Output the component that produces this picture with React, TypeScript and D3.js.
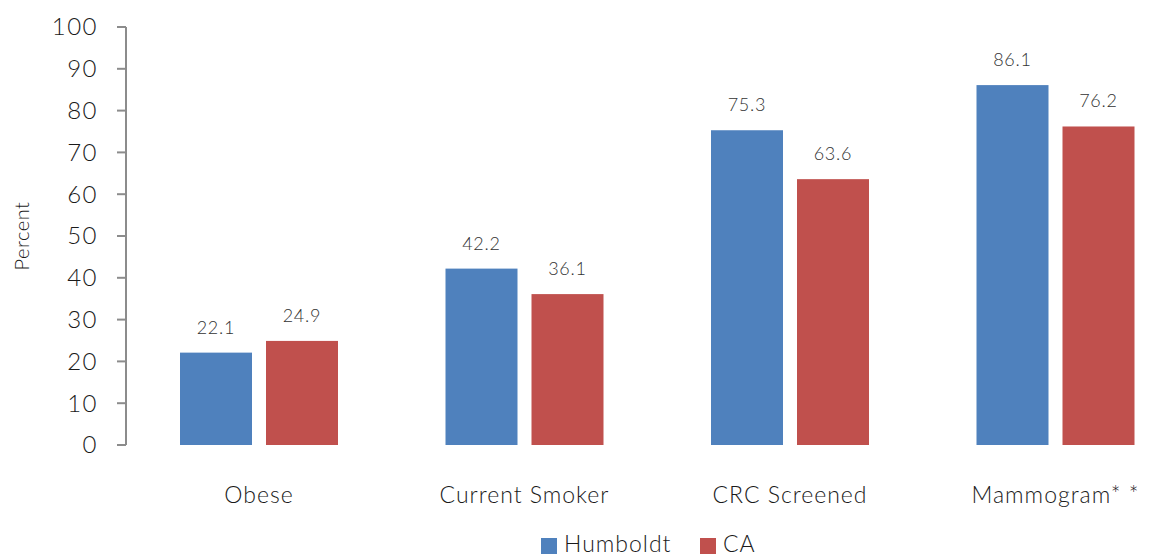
import { useEffect, useRef } from 'react';
import * as d3 from 'd3';

const categories = ['Obese', 'Current Smoker', 'CRC Screened', 'Mammogram* *'];
const seriesNames = ['Humboldt', 'CA'];
const humboldt = [22.1, 42.2, 75.3, 86.1];
const ca = [24.9, 36.1, 63.6, 76.2];
const yTicks = [0, 10, 20, 30, 40, 50, 60, 70, 80, 90, 100];
const colors = ['#4f81bd', '#c0504d'];

const FONT = "Lato, 'Open Sans', sans-serif";

const App = () => {
  const svgRef = useRef<SVGSVGElement>(null);
  const width = 1156;
  const height = 557;

  useEffect(() => {
    if (!svgRef.current) return;
    const svg = d3.select(svgRef.current);
    svg.selectAll('*').remove();

    const x = d3.scaleBand<string>().domain(categories).range([126, 1188]);
    const y = d3.scaleLinear().domain([0, 100]).range([445, 27]);
    const x1 = d3
      .scaleBand<string>()
      .domain(seriesNames)
      .range([54, 212])
      .paddingInner(14 / 86);

    const defs = svg.append('defs');
    const f = defs.append('filter').attr('id', 'shadow').attr('height', '400%').attr('y', '-50%');
    f.append('feGaussianBlur').attr('in', 'SourceAlpha').attr('stdDeviation', 3);
    f.append('feOffset').attr('dx', 2).attr('dy', 4).attr('result', 'b');
    f.append('feComponentTransfer').append('feFuncA').attr('type', 'linear').attr('slope', 0.35);
    const merge = f.append('feMerge');
    merge.append('feMergeNode');
    merge.append('feMergeNode').attr('in', 'SourceGraphic');

    // bars
    const rows = categories.map((c, i) => ({ c, vals: [humboldt[i], ca[i]] }));
    const groups = svg
      .selectAll('g.grp')
      .data(rows)
      .join('g')
      .attr('class', 'grp')
      .attr('transform', (d) => `translate(${x(d.c)},0)`);

    groups.each(function (d) {
      const g = d3.select(this);
      d.vals.forEach((v, si) => {
        const bx = x1(seriesNames[si]) as number;
        g.append('rect')
          .attr('x', bx)
          .attr('y', y(v))
          .attr('width', x1.bandwidth())
          .attr('height', y(0) - y(v))
          .attr('fill', colors[si]);
        g.append('text')
          .attr('x', bx + x1.bandwidth() / 2)
          .attr('y', y(v) - 19)
          .attr('text-anchor', 'middle')
          .attr('font-family', FONT)
          .attr('font-weight', 300)
          .attr('font-size', 18)
          .attr('letter-spacing', 0.8)
          .attr('fill', '#333')
          .text(v.toFixed(1));
      });
    });

    // baseline with shadow
    svg
      .append('line')
      .attr('x1', 123)
      .attr('x2', 1188)
      .attr('y1', y(0))
      .attr('y2', y(0))
      .attr('stroke', '#8c8c8c')
      .attr('stroke-width', 2)
      .attr('filter', 'url(#shadow)');

    // y axis
    const yAxis = svg.append('g').attr('transform', 'translate(126,0)');
    yAxis
      .append('line')
      .attr('x1', 0)
      .attr('x2', 0)
      .attr('y1', y(100))
      .attr('y2', y(0))
      .attr('stroke', '#8c8c8c')
      .attr('stroke-width', 2);
    yTicks.forEach((t) => {
      yAxis
        .append('line')
        .attr('x1', -9)
        .attr('x2', 0)
        .attr('y1', y(t))
        .attr('y2', y(t))
        .attr('stroke', '#8c8c8c')
        .attr('stroke-width', 2);
      yAxis
        .append('text')
        .attr('x', -28)
        .attr('y', y(t))
        .attr('dy', '0.35em')
        .attr('text-anchor', 'end')
        .attr('font-family', FONT)
        .attr('font-weight', 300)
        .attr('font-size', 24)
        .attr('letter-spacing', 1.5)
        .attr('fill', '#1a1a1a')
        .text(t);
    });

    svg
      .append('text')
      .attr('transform', 'translate(29,236) rotate(-90)')
      .attr('text-anchor', 'middle')
      .attr('font-family', FONT)
      .attr('font-weight', 300)
      .attr('font-size', 20)
      .attr('letter-spacing', 0.5)
      .attr('fill', '#1a1a1a')
      .text('Percent');

    // category labels
    svg
      .selectAll('text.cat')
      .data(categories)
      .join('text')
      .attr('class', 'cat')
      .attr('x', (d) => (x(d) as number) + 133)
      .attr('y', 503)
      .attr('text-anchor', 'middle')
      .attr('font-family', FONT)
      .attr('font-weight', 300)
      .attr('font-size', 23)
      .attr('letter-spacing', 1)
      .attr('fill', '#1a1a1a')
      .text((d) => d);

    // legend
    const legendX = [541, 700];
    seriesNames.forEach((s, i) => {
      svg
        .append('rect')
        .attr('x', legendX[i])
        .attr('y', 538)
        .attr('width', 16)
        .attr('height', 16)
        .attr('fill', colors[i]);
      svg
        .append('text')
        .attr('x', legendX[i] + 23)
        .attr('y', 552)
        .attr('font-family', FONT)
        .attr('font-weight', 300)
        .attr('font-size', 23)
        .attr('letter-spacing', 1)
        .attr('fill', '#1a1a1a')
        .text(s);
    });
  }, []);

  return (
    <svg
      ref={svgRef}
      width={width}
      height={height}
      style={{ position: 'absolute', left: 0, top: 0, background: '#fff' }}
    />
  );
};

export default App;
